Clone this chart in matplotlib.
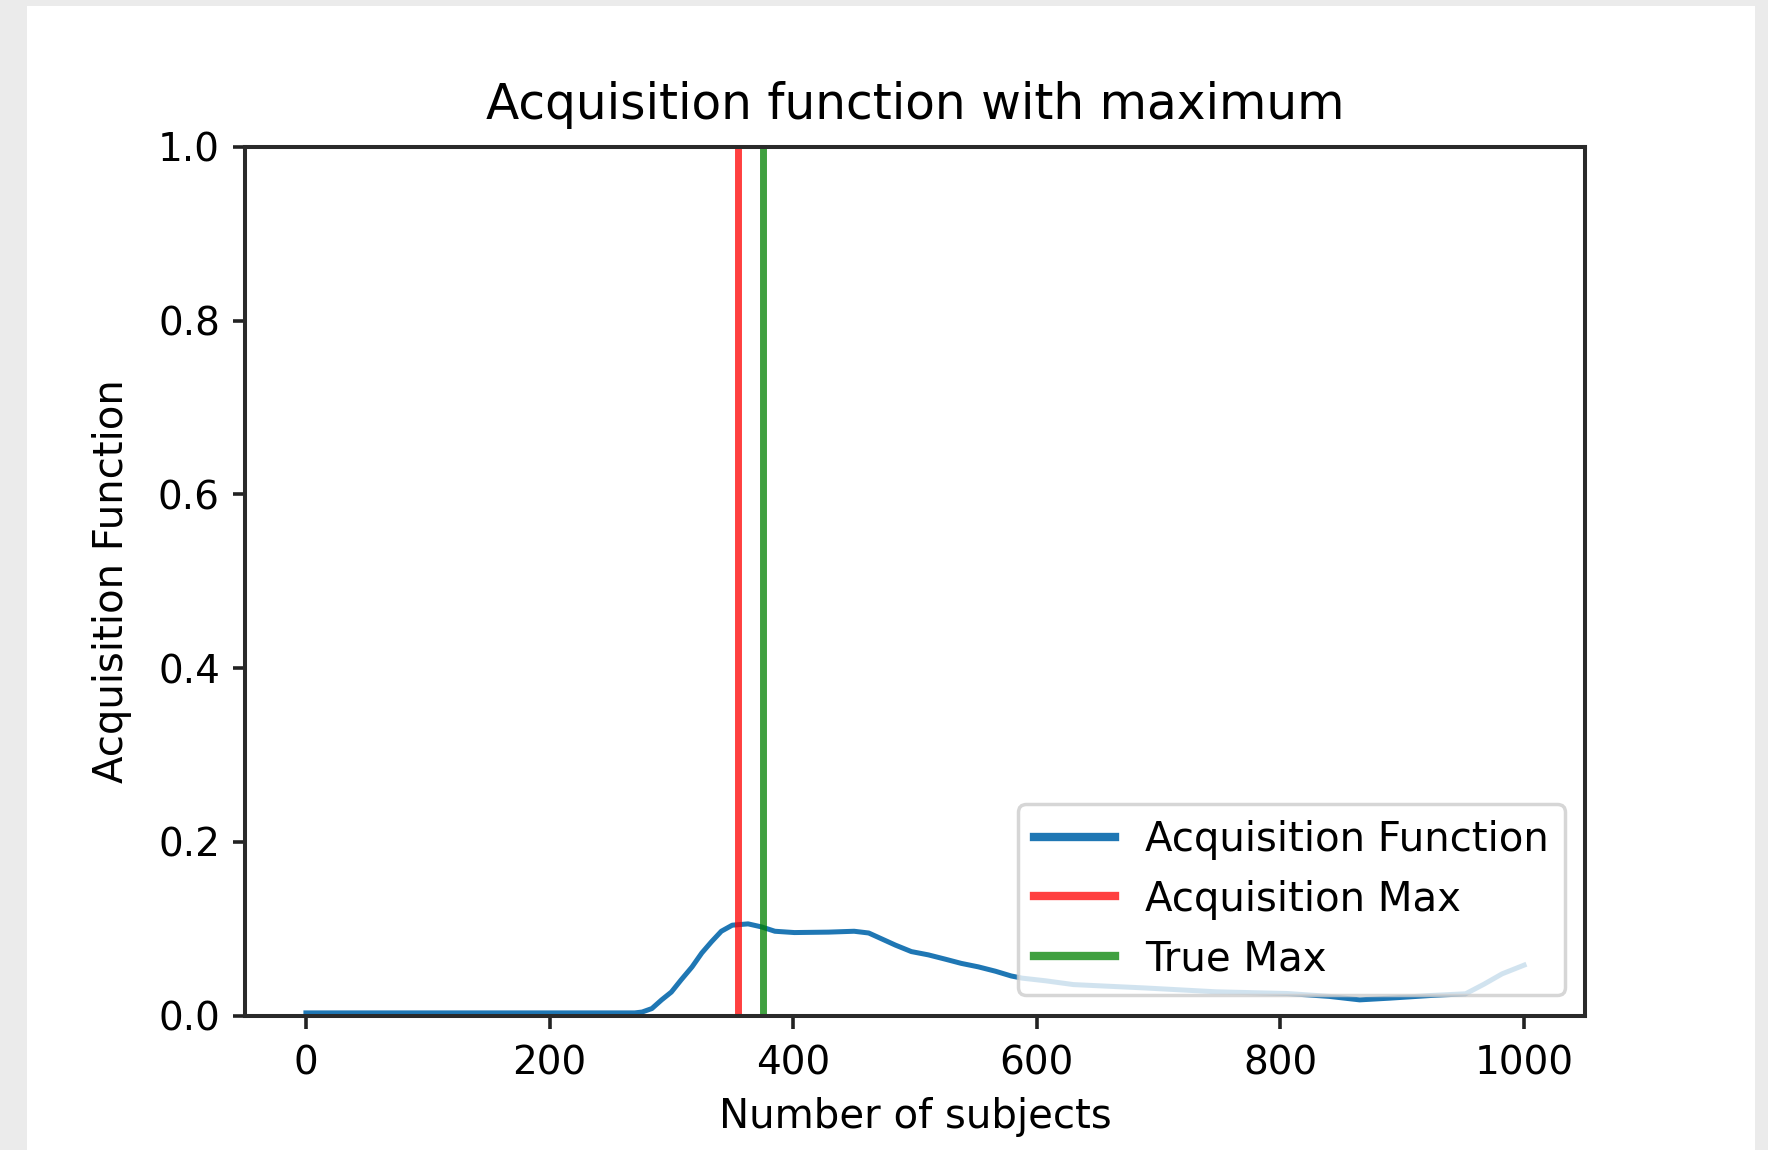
import matplotlib
matplotlib.use("Agg")
import matplotlib.pyplot as plt
from matplotlib.patches import Rectangle

# Data
x_vals = [0, 100, 200, 270, 276, 284, 292, 300, 308, 317, 325, 333, 341, 350,
          363, 374, 385, 401, 429, 450, 462, 473, 484, 497, 511, 525, 538,
          552, 566, 579, 588, 607, 630, 689, 747, 806, 840, 865, 890, 923,
          952, 967, 982, 1000]
acq_vals = [0.003, 0.003, 0.003, 0.003, 0.004, 0.008, 0.018, 0.027, 0.041,
            0.056, 0.072, 0.085, 0.097, 0.104, 0.1055, 0.102, 0.097, 0.0955,
            0.096, 0.097, 0.095, 0.088, 0.081, 0.0736, 0.0698, 0.0648, 0.060,
            0.056, 0.051, 0.0455, 0.043, 0.040, 0.0356, 0.0317, 0.0273,
            0.0253, 0.022, 0.018, 0.020, 0.023, 0.025, 0.036, 0.048, 0.058]
acq_max = 355
true_max = 375

title = "Acquisition function with maximum"
xlabel = "Number of subjects"
ylabel = "Acquisition Function"
labels = ["Acquisition Function", "Acquisition Max", "True Max"]

W, H = 1768, 1150
fig = plt.figure(figsize=(W / 100, H / 100), dpi=100)
fig.patch.set_facecolor("#ebebeb")
fig.patches.append(Rectangle((27 / W, 0), (1755 - 27) / W, (H - 6) / H,
                             transform=fig.transFigure, facecolor="white",
                             edgecolor="none", zorder=-10))

ax = fig.add_axes([245 / W, (H - 1015.5) / H, (1585 - 245) / W, (1015.5 - 147) / H])
ax.set_zorder(5)
ax.plot(x_vals, acq_vals, color="#1f77b4", lw=3.6, label=labels[0])
ax.axvline(acq_max, color="red", alpha=0.75, lw=5, label=labels[1])
ax.axvline(true_max, color="green", alpha=0.75, lw=5, label=labels[2])

ax.set_xlim(-50, 1050)
ax.set_ylim(0, 1.0)
ax.set_xticks([0, 200, 400, 600, 800, 1000])
ax.set_yticks([0.0, 0.2, 0.4, 0.6, 0.8, 1.0])
ax.tick_params(labelsize=28, length=9, width=2.6, colors="#222222",
               labelcolor="black")
ax.tick_params(axis="x", pad=12)
ax.tick_params(axis="y", pad=9)
for s in ax.spines.values():
    s.set_linewidth(2.9)
    s.set_color("#2a2a2a")

ax.set_title(title, fontsize=35, pad=20)
ax.set_xlabel(xlabel, fontsize=29, labelpad=10)
ax.set_ylabel(ylabel, fontsize=29, labelpad=19)

leg = ax.legend(loc="lower right", fontsize=29, borderaxespad=0.5,
                framealpha=0.8, edgecolor="#cccccc", handlelength=2.0,
                handletextpad=0.75, labelspacing=0.49)
leg.get_frame().set_linewidth(2.5)
for h in leg.get_lines():
    h.set_linewidth(6)

fig.savefig("out.png", dpi=100, facecolor=fig.get_facecolor())
